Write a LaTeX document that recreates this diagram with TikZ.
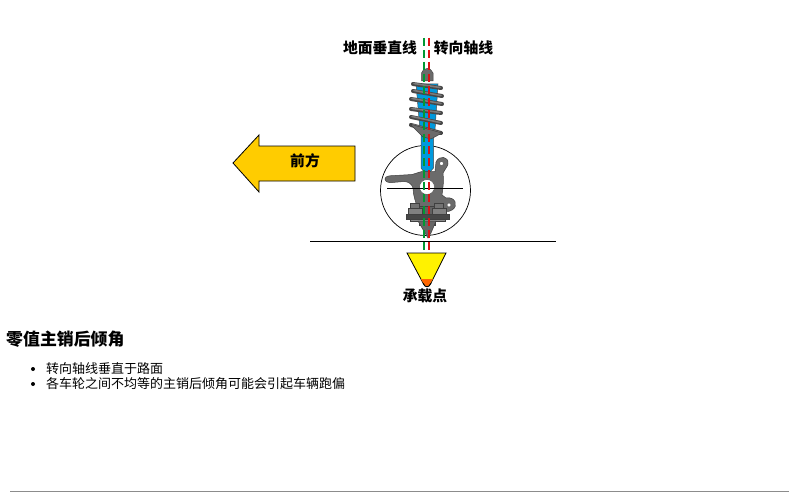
\documentclass[tikz,border=0pt]{standalone}
\usepackage{fontspec}
\setmainfont{Noto Sans CJK SC}
\definecolor{arrowy}{RGB}{255,204,0}
\definecolor{strutb}{RGB}{0,153,221}
\definecolor{tipo}{RGB}{255,102,0}
\definecolor{axg}{RGB}{0,153,51}
\definecolor{axr}{RGB}{221,17,17}
\begin{document}
\begin{tikzpicture}[x=1pt,y=-1pt,
  lab/.style={font=\fontsize{14.8}{16}\selectfont\bfseries,inner sep=0pt},
  body/.style={font=\fontsize{13}{15}\selectfont,inner sep=0pt,anchor=west},
  coil/.style={line width=4pt,line cap=round,draw=black!72!white},
  coilin/.style={line width=1.6pt,line cap=round,draw=black!52!white},
  steel/.style={fill=black!58!white,draw=black!75!white,line width=0.5pt},
  axis/.style={line width=1.3pt,dash pattern=on 8pt off 4pt}]
\useasboundingbox (0,0) rectangle (789,492);
\fill[white] (0,0) rectangle (789,492);
% arrow
\draw[fill=arrowy,draw=black,line width=0.8pt]
  (233,163) -- (259,135) -- (259,146) -- (355,146) -- (355,181) -- (259,181) -- (259,192) -- cycle;
\node[lab] (front) at (305,161) {前方};
% circle
\node[circle,draw=black,line width=0.7pt,minimum size=90pt,inner sep=0pt] (ring) at (425.5,190.5) {};
% strut body
\filldraw[fill=strutb,draw=black!70!white,line width=0.5pt]
  (416,84) -- (438,84) -- (435,130) -- (433.5,132) -- (433.5,168) -- (430,172) -- (424,172) -- (421,168) -- (421,132) -- (420,130) -- cycle;
% spring
\filldraw[steel] (421.5,81) -- (421.5,73) .. controls (423,67) and (431,67) .. (433,73) -- (433,81) -- cycle;
\foreach \a/\b/\c/\d in {
  413/84/441/88, 413/91/442/96, 411/99/442/104, 411/109/441/113,
  411/117/441/123, 411/125/441/133}{
  \draw[coil] (\a,\b) -- (\c,\d);
  \draw[coilin] (\a+1,\b-0.5) -- (\c-1,\d-0.5);
}
\filldraw[steel] (410,124) -- (442,133) -- (431,139) -- (423,137) -- cycle;
% knuckle
\filldraw[steel] (385,179) .. controls (385,176) and (390,175.5) .. (395,175.5)
  -- (412,174.5) .. controls (418,173) and (420,171) .. (426,171.5)
  -- (435,171.5) -- (436,162) .. controls (439,155) and (449,156) .. (448,164)
  .. controls (447,168) and (444,170) .. (443,173)
  .. controls (444,180) and (443,188) .. (442,195)
  -- (446,198) .. controls (455,196) and (459,206) .. (452,210)
  .. controls (448,213) and (443,211) .. (439,208)
  -- (418,210) .. controls (416,203) and (413,195) .. (413,188)
  .. controls (412,184) and (408,181.5) .. (404,181.5)
  -- (392,182.5) .. controls (388,183) and (385,181.5) .. (385,179) -- cycle;
\node[circle,fill=white,draw=black!70!white,line width=0.4pt,minimum size=4pt,inner sep=0pt] (eartop) at (441.5,163.5) {};
\node[circle,fill=white,draw=black!70!white,line width=0.4pt,minimum size=4pt,inner sep=0pt] (earlow) at (449,205) {};
\node[circle,fill=white,draw=black!70!white,line width=0.4pt,minimum size=15pt,inner sep=0pt] (bore) at (427,187) {};
% bolts and lower plate
\filldraw[steel,fill=black!62!white] (419,206) -- (435,206) -- (435,225) -- (419,225) -- cycle;
\filldraw[steel,fill=black!50!white] (408,208) -- (422,208) -- (422,214) -- (408,214) -- cycle;
\filldraw[steel,fill=black!50!white] (432,208) -- (446,208) -- (446,214) -- (432,214) -- cycle;
\filldraw[steel,fill=black!55!white] (410.5,203) -- (419.5,203) -- (419.5,208) -- (410.5,208) -- cycle;
\filldraw[steel,fill=black!55!white] (434.5,203) -- (443.5,203) -- (443.5,208) -- (434.5,208) -- cycle;
\filldraw[steel,fill=black!72!white] (406,214) -- (449,214) -- (449,219) -- (406,219) -- cycle;
\filldraw[steel,fill=black!45!white] (410,219) -- (445,219) -- (445,221) -- (410,221) -- cycle;
\filldraw[steel,fill=black!60!white] (418,221) -- (436,221) -- (431,233) -- (428,238) -- (425,233) -- cycle;
% lines
\coordinate (hl) at (387,188); \coordinate (hr) at (463,188);
\draw[black,line width=0.7pt] (hl) -- (hr);
\coordinate (gl) at (310,241); \coordinate (gr) at (555.5,241);
\draw[black,line width=0.8pt] (gl) -- (gr);
% load point
\draw[fill=yellow,draw=black,line width=0.8pt] (407,253) -- (446,253) -- (431,283) .. controls (429,288) and (425,288) .. (423,283) -- cycle;
\fill[tipo] (420.8,279) -- (432.8,279) -- (430.5,283) .. controls (429,287.5) and (425,287.5) .. (423.5,283) -- cycle;
\draw[black,line width=0.8pt] (431,283) .. controls (429,288) and (425,288) .. (423,283);
% axes
\coordinate (gt) at (424,38); \coordinate (gb) at (424,250);
\coordinate (rt) at (429,38); \coordinate (rb) at (429,250);
\draw[axis,draw=axg] (gt) -- (gb);
\draw[axis,draw=axr] (rt) -- (rb);
% labels
\node[lab] (vert) at (380,47.5) {地面垂直线};
\node[lab] (steer) at (463.5,47.5) {转向轴线};
\node[lab] (load) at (425,296) {承载点};
\node[font=\fontsize{16.9}{19}\selectfont\bfseries,inner sep=0pt,anchor=west] (title) at (6,339) {零值主销后倾角};
\node[circle,fill=black,minimum size=4pt,inner sep=0pt] (b1) at (33,369) {};
\node[circle,fill=black,minimum size=4pt,inner sep=0pt] (b2) at (33,384) {};
\node[body] (t1) at (46,368.5) {转向轴线垂直于路面};
\node[body] (t2) at (46,383.5) {各车轮之间不均等的主销后倾角可能会引起车辆跑偏};
% rule
\coordinate (ruleL) at (10,491.2); \coordinate (ruleR) at (789,491.2);
\draw[black!45!white,line width=1.3pt] (ruleL) -- (ruleR);
\end{tikzpicture}
\end{document}
